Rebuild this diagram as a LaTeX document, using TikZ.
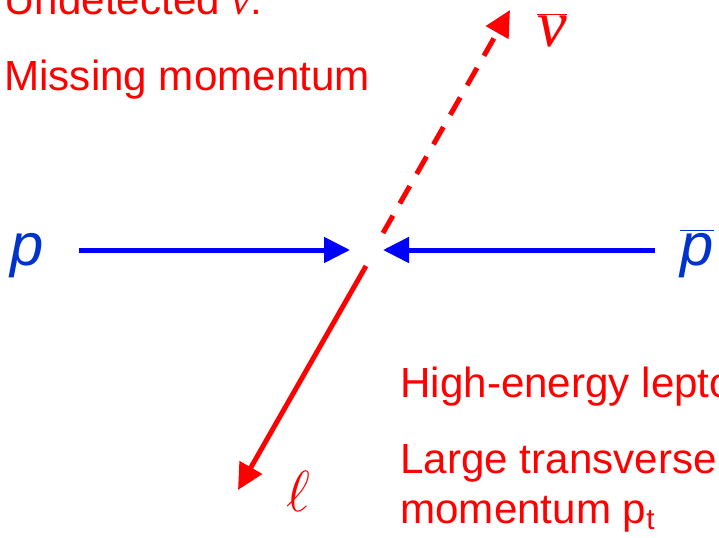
\RequirePackage{fix-cm}
\documentclass[tikz,border=0pt]{standalone}
\usepackage{fontspec}
\setmainfont{Liberation Sans}
\newfontfamily\nuserif{Liberation Serif}
\usetikzlibrary{arrows.meta}

\definecolor{beamblue}{RGB}{0,0,255}
\definecolor{labelblue}{RGB}{0,51,204}
\definecolor{decayred}{RGB}{255,0,0}

\tikzset{
  beam/.style={draw=beamblue, line width=0.1cm,
    -{Triangle[length=0.52cm,width=0.5cm]}},
  decay/.style={draw=decayred, line width=0.1cm,
    -{Triangle[length=0.52cm,width=0.5cm]}},
  missing/.style={decay, dash pattern=on 0.4cm off 0.28cm},
  note/.style={text=decayred, font=\fontsize{24}{29}\selectfont,
    anchor=base west, inner sep=0pt},
  beamlabel/.style={text=labelblue, font=\fontsize{34}{40}\selectfont\itshape,
    anchor=base west, inner sep=0pt},
}

\begin{document}
\begin{tikzpicture}[x=0.02cm, y=-0.02cm]

% frame of the slide (pixel grid, y down)
\useasboundingbox (0,0) rectangle (719,537);
\clip (0,0) rectangle (719,537);

% interaction point
\coordinate (vtx) at (374,250);

% incoming beams
\node[beamlabel] (p) at (10,265) {p};
\node[beamlabel] (pbar) at (680,265) {$\overline{\mbox{\itshape p}}$};
\coordinate (p-start) at (79,250);
\coordinate (p-tip) at (350,250);
\coordinate (pbar-start) at (655,250);
\coordinate (pbar-tip) at (383,250);
\draw[beam] (p-start) -- (p-tip);
\draw[beam] (pbar-start) -- (pbar-tip);

% W decay products: neutrino (dashed) and lepton
\coordinate (nu-start) at (383,233);
\coordinate (nu-tip) at (510,10);
\coordinate (lep-start) at (366,266);
\coordinate (lep-tip) at (238,490);
\draw[missing] (nu-start) -- (nu-tip);
\draw[decay] (lep-start) -- (lep-tip);

\node[anchor=base west, inner sep=0pt, text=decayred,
  font=\fontsize{38}{44}\selectfont\nuserif\itshape] (nu) at (537,47)
  {$\overline{\mbox{ν}}$};
\node[anchor=base west, inner sep=0pt, text=decayred,
  font=\fontsize{33}{40}\selectfont] (lep) at (286,511) {$\ell$};

% annotations
\node[note] (undet) at (4,15) {Undetected {\nuserif\itshape ν}:};
\node[note] (miss) at (4,91) {Missing momentum};
\node[note] (hilep) at (400,397) {High-energy lepton:};
\node[note] (large) at (400,473) {Large transverse};
\node[note] (mom) at (400,523) {momentum p\textsubscript{t}};

\end{tikzpicture}
\end{document}
